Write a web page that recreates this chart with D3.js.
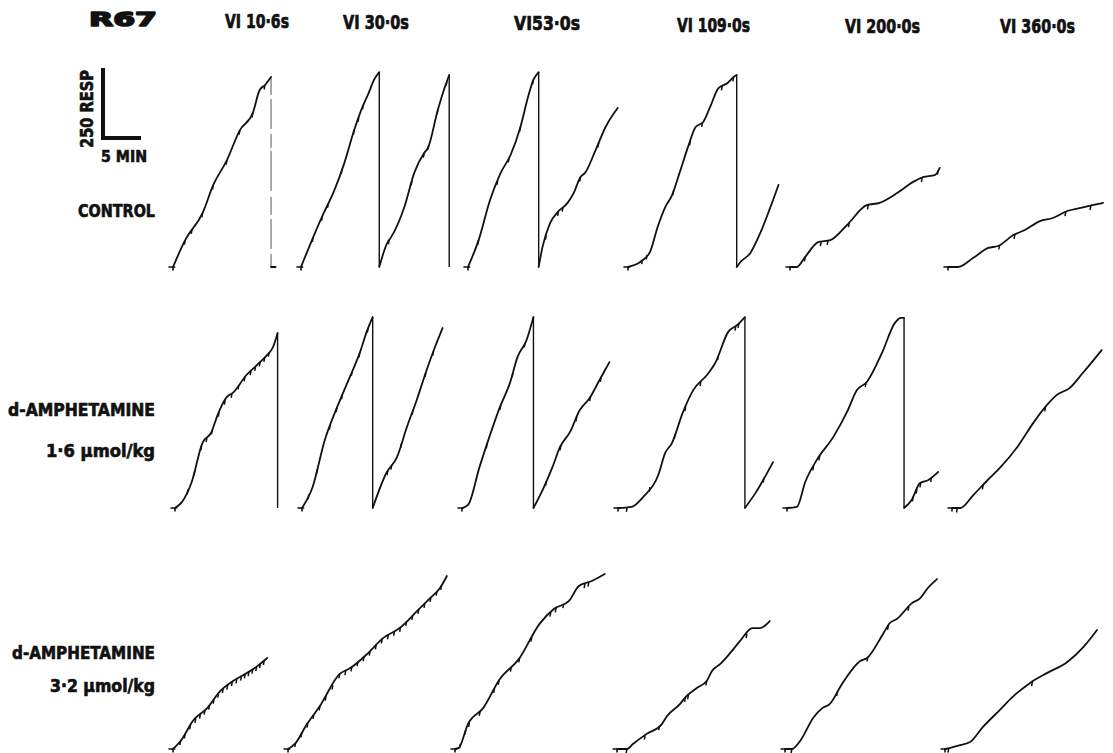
<!DOCTYPE html>
<html><head><meta charset="utf-8">
<script src="https://cdn.jsdelivr.net/npm/d3@7"></script>
<style>body{margin:0;background:#fff}</style>
</head><body>
<svg id="c" width="1113" height="753"></svg>
<script>
// ---------- labels ----------
const subject = "R67";
const schedules = ["VI 10·6s", "VI 30·0s", "VI53·0s", "VI 109·0s", "VI 200·0s", "VI 360·0s"];
const conditions = ["CONTROL", "d-AMPHETAMINE", "d-AMPHETAMINE"];
const doses = ["", "1·6 µmol/kg", "3·2 µmol/kg"];
const scaleResp = 250;   // calibration bar, responses
const scaleMin = 5;      // calibration bar, minutes
const scaleRespLabel = "250 RESP";
const scaleMinLabel = "5 MIN";

// ---------- cumulative records: [minutes, cumulative responses] ----------
// a repeated minute with responses back to 0 is a pen reset
const control_VI10  = [[0,0],[1.6,96],[3.9,193],[5.3,293],[7.1,382],[8.8,489],[10.5,550],[11.4,632],[12.1,650],[12.9,679],[12.9,0],[13.5,0]];
const control_VI30  = [[0,0],[2.0,132],[3.0,193],[4.3,268],[5.7,371],[7.0,489],[8.2,579],[8.9,621],[9.6,668],[10.3,696],[10.3,0],[11.4,89],[11.8,104],[13.6,214],[14.9,336],[16.2,407],[16.7,425],[18.0,561],[18.8,632],[19.5,686],[19.5,0]];
const control_VI53  = [[0,0],[1.4,96],[2.9,239],[4.3,336],[5.6,400],[6.9,500],[7.9,607],[8.6,668],[9.3,696],[9.3,0],[9.8,71],[10.8,157],[11.8,196],[13.1,229],[13.9,264],[14.8,321],[15.4,336],[16.8,418],[18.1,500],[19.7,568]];
const control_VI109 = [[0,0],[1.6,18],[2.9,54],[3.9,143],[4.9,214],[5.8,257],[6.9,346],[7.9,429],[8.9,500],[9.9,518],[10.8,571],[11.9,639],[13.1,657],[13.9,679],[14.3,686],[14.3,0],[14.8,18],[16.1,50],[17.4,121],[18.7,211],[19.8,293]];
const control_VI200 = [[0,0],[0.9,0],[2.0,36],[3.7,89],[5.3,96],[7.5,150],[10.1,221],[11.8,229],[14.1,264],[16.2,304],[17.5,321],[19.1,329],[19.7,354]];
const control_VI360 = [[0,0],[1.3,0],[3.3,32],[5.3,68],[6.6,75],[8.6,114],[10.1,132],[12.1,164],[13.8,175],[15.7,200],[17.4,211],[19.0,221],[20.4,229]];

const amph16_VI10  = [[0,0],[0.9,21],[2.2,93],[3.6,232],[4.8,271],[5.6,332],[6.8,396],[7.6,411],[9.4,475],[10.8,511],[12.1,546],[12.9,575],[13.5,625],[13.5,0]];
const amph16_VI30  = [[0,0],[1.4,75],[3.0,243],[4.3,339],[5.4,411],[6.3,468],[7.6,554],[8.6,636],[9.3,682],[9.3,0],[11.1,125],[12.5,182],[13.8,289],[15.1,386],[16.4,493],[17.5,575],[18.5,643]];
const amph16_VI53  = [[0,0],[0.8,11],[2.3,146],[3.6,254],[5.0,361],[6.3,446],[7.3,539],[8.5,600],[9.4,682],[9.4,0],[10.6,64],[11.9,146],[12.9,218],[14.2,271],[15.5,350],[16.8,393],[18.1,457],[19.4,521]];
const amph16_VI109 = [[0,0],[1.8,4],[3.3,39],[5.3,118],[6.2,196],[7.1,232],[8.5,339],[9.9,421],[11.7,475],[12.8,518],[14.5,629],[15.7,654],[16.7,682],[16.7,0],[18.1,54],[20.4,164]];
const amph16_VI200 = [[0,0],[1.3,4],[2.4,93],[3.9,171],[6.1,254],[7.9,343],[9.2,421],[10.5,450],[12.5,554],[14.2,661],[15.0,679],[15.4,679],[15.4,0],[16.4,29],[17.5,89],[18.6,100],[19.9,129]];
const amph16_VI360 = [[0,0],[1.1,0],[2.8,46],[4.7,100],[6.3,143],[8.6,218],[10.7,304],[12.5,368],[13.8,404],[15.5,429],[17.2,482],[19.7,564]];

const amph32_VI10  = [[0,0],[1.2,36],[2.6,100],[4.5,146],[6.2,207],[7.9,243],[9.7,271],[11.1,296],[12.4,325]];
const amph32_VI30  = [[0,0],[0.9,18],[2.5,89],[4.2,154],[6.8,268],[8.2,289],[10.4,339],[12.5,396],[14.7,432],[17.0,493],[18.7,539],[20.0,575],[20.9,618]];
const amph32_VI53  = [[0,0],[0.5,4],[1.7,89],[3.7,146],[5.9,250],[8.4,321],[11.1,446],[13.0,500],[15.0,529],[16.3,582],[18.0,600],[19.7,625]];
const amph32_VI109 = [[0,0],[1.3,0],[2.1,18],[3.9,54],[5.9,89],[6.6,118],[8.3,161],[8.9,182],[10.5,218],[11.8,243],[12.5,279],[13.6,304],[14.9,343],[16.2,386],[17.8,432],[18.8,432],[20.1,457]];
const amph32_VI200 = [[0,0],[0.9,0],[2.0,29],[3.7,111],[4.9,146],[5.9,161],[7.5,232],[9.9,314],[10.8,325],[12.9,411],[13.8,450],[14.7,464],[16.7,521],[17.8,539],[18.8,575],[20.0,607]];
const amph32_VI360 = [[0,0],[0.7,4],[2.0,14],[3.3,25],[5.0,79],[7.2,139],[8.9,186],[11.2,236],[13.4,271],[16.1,311],[18.2,364],[19.3,400],[20.0,425]];

// reinforcement pips (minutes)
const control_VI10_rf  = [1.6,2.5,3.9,5.3,7.1,8.8,10.5,12.1];
const control_VI30_rf  = [1.6,2.8,3.6,5.4,7.0,7.6,8.2,11.6,14.6,16.2,16.8,18.0,19.2];
const control_VI53_rf  = [1.4,3.9,5.4,6.9,8.6,10.3,11.9,12.5,14.8,17.2];
const control_VI109_rf = [1.9,2.5,6.0,8.2,9.8,12.4,13.9];
const control_VI200_rf = [2.0,4.1,5.0,7.8,10.3,17.4,19.5];
const control_VI360_rf = [6.8,8.8,15.5,18.8];
const amph16_VI10_rf  = [1.7,2.6,3.5,4.2,4.9,5.8,6.6,7.5,8.4,9.2,10.0,10.6,11.2,11.8,12.4];
const amph16_VI30_rf  = [0.9,2.0,3.7,4.6,5.3,6.6,7.6,8.7,11.3,11.8,13.1,14.6,16.3,17.3];
const amph16_VI53_rf  = [3.3,5.1,6.7,8.3,11.1,13.0,15.1,16.9,18.3];
const amph16_VI109_rf = [1.2,4.2,7.5,8.9,10.9,13.2,15.5,15.9,19.2];
const amph16_VI200_rf = [3.5,4.3,10.4,16.6,17.1,17.6,19.0];
const amph16_VI360_rf = [0.7,4.1,12.3];
const amph32_VI10_rf  = [1.0,1.6,2.3,3.0,3.6,4.2,4.8,5.4,6.0,6.6,7.2,7.8,8.4,9.0,9.5,10.0,10.5,11.0,11.5,12.0];
const amph32_VI30_rf  = [1.0,1.8,2.6,3.4,4.2,5.0,5.9,6.8,7.6,8.4,9.2,10.0,10.8,11.6,12.4,13.2,14.0,14.8,15.6,16.4,17.2,18.0,18.8,19.6,20.2];
const amph32_VI53_rf  = [0.7,1.4,1.9,3.3,5.2,5.8,7.4,8.5,10.1,12.6,13.3,14.3,17.1,17.6];
const amph32_VI109_rf = [1.3,3.7,5.6,9.0,9.4,11.8,17.1];
const amph32_VI200_rf = [0.9,6.9,10.9,13.6,16.3];
const amph32_VI360_rf = [0.5,11.5];

// ---------- layout (pixel placement of each record's origin) ----------
const originX = [[173,301,468,628,790,948],[175,302,462,618,787,952],[173,288,455,617,785,945]];
const rowBase = [267, 508, 749];

const records = [
  [control_VI10, control_VI30, control_VI53, control_VI109, control_VI200, control_VI360],
  [amph16_VI10, amph16_VI30, amph16_VI53, amph16_VI109, amph16_VI200, amph16_VI360],
  [amph32_VI10, amph32_VI30, amph32_VI53, amph32_VI109, amph32_VI200, amph32_VI360]
];
const pips = [
  [control_VI10_rf, control_VI30_rf, control_VI53_rf, control_VI109_rf, control_VI200_rf, control_VI360_rf],
  [amph16_VI10_rf, amph16_VI30_rf, amph16_VI53_rf, amph16_VI109_rf, amph16_VI200_rf, amph16_VI360_rf],
  [amph32_VI10_rf, amph32_VI30_rf, amph32_VI53_rf, amph32_VI109_rf, amph32_VI200_rf, amph32_VI360_rf]
];

// ---------- scales ----------
const x = d3.scaleLinear().domain([0, 20]).range([0, 152]);      // minutes -> px
const y = d3.scaleLinear().domain([0, 700]).range([0, -196]);    // responses -> px (upwards)

const svg = d3.select("#c");
const ink = "#111";
const fontNarrow = "'Liberation Sans Narrow','DejaVu Sans Condensed','Roboto Condensed',sans-serif";

// ---------- header ----------
svg.append("text").text(subject)
  .attr("x", 89).attr("y", 26)
  .attr("font-family", "'DejaVu Sans',sans-serif").attr("font-weight", 900)
  .attr("font-size", 20).attr("textLength", 68).attr("lengthAdjust", "spacingAndGlyphs")
  .attr("fill", ink).attr("stroke", ink).attr("stroke-width", 1.6).attr("stroke-linejoin", "round");

const headX = [225, 343, 514, 677, 845, 1000];
const headW = [64, 66, 66, 73, 75, 75];
const headY = [28, 29, 30, 32, 33, 33];
svg.selectAll("text.head").data(schedules).join("text").attr("class", "head")
  .text(d => d)
  .attr("x", (d, i) => headX[i]).attr("y", (d, i) => headY[i])
  .attr("textLength", (d, i) => headW[i]).attr("lengthAdjust", "spacingAndGlyphs")
  .attr("font-family", fontNarrow).attr("font-weight", "bold").attr("font-size", 20)
  .attr("fill", ink).attr("stroke", ink).attr("stroke-width", 0.7);

// ---------- row labels ----------
const condY = [217, 416, 659];
const condW = [77, 147, 143];
svg.selectAll("text.cond").data(conditions).join("text").attr("class", "cond")
  .text(d => d)
  .attr("x", 155).attr("y", (d, i) => condY[i]).attr("text-anchor", "end")
  .attr("textLength", (d, i) => condW[i]).attr("lengthAdjust", "spacingAndGlyphs")
  .attr("font-family", fontNarrow).attr("font-weight", "bold").attr("font-size", 17)
  .attr("fill", ink).attr("stroke", ink).attr("stroke-width", 0.6);
const doseY = [0, 457, 692];
const doseW = [0, 109, 105];
svg.selectAll("text.dose").data(doses.filter(d => d)).join("text").attr("class", "dose")
  .text(d => d)
  .attr("x", 155).attr("y", (d, i) => doseY[i + 1]).attr("text-anchor", "end")
  .attr("textLength", (d, i) => doseW[i + 1]).attr("lengthAdjust", "spacingAndGlyphs")
  .attr("font-family", fontNarrow).attr("font-weight", "bold").attr("font-size", 17)
  .attr("fill", ink).attr("stroke", ink).attr("stroke-width", 0.6);

// ---------- calibration bar ----------
const cal = svg.append("g").attr("transform", "translate(103,138)");
cal.append("path")
  .attr("d", `M0,${y(scaleResp)} L0,0 L${x(scaleMin)},0`)
  .attr("fill", "none").attr("stroke", ink).attr("stroke-width", 4).attr("stroke-linejoin", "miter");
svg.append("text").text(scaleRespLabel)
  .attr("transform", "translate(93,148) rotate(-90)")
  .attr("textLength", 78).attr("lengthAdjust", "spacingAndGlyphs")
  .attr("font-family", fontNarrow).attr("font-weight", "bold").attr("font-size", 17).attr("fill", ink)
  .attr("stroke", ink).attr("stroke-width", 0.6);
svg.append("text").text(scaleMinLabel)
  .attr("x", 101).attr("y", 162)
  .attr("textLength", 46).attr("lengthAdjust", "spacingAndGlyphs")
  .attr("font-family", fontNarrow).attr("font-weight", "bold").attr("font-size", 16).attr("fill", ink)
  .attr("stroke", ink).attr("stroke-width", 0.6);

// ---------- records ----------
const line = d3.line().x(d => x(d[0])).y(d => y(d[1])).curve(d3.curveMonotoneX);

function splitSegments(pts) {
  const segs = [], resets = [];
  let cur = [pts[0]];
  for (let i = 1; i < pts.length; i++) {
    const a = pts[i - 1], b = pts[i];
    if (b[0] === a[0] && b[1] < a[1]) {
      segs.push(cur); resets.push([a, b]); cur = [b];
    } else cur.push(b);
  }
  segs.push(cur);
  return { segs, resets };
}
function interp(pts, t) {
  for (let i = 0; i < pts.length - 1; i++) {
    const a = pts[i], b = pts[i + 1];
    if (b[0] > a[0] && t >= a[0] && t <= b[0]) return a[1] + (b[1] - a[1]) * (t - a[0]) / (b[0] - a[0]);
  }
  return null;
}

records.forEach((row, r) => {
  row.forEach((pts, c) => {
    const g = svg.append("g").attr("transform", `translate(${originX[r][c]},${rowBase[r]})`);
    const { segs, resets } = splitSegments(pts);
    const faint = (r === 0 && c === 0);
    resets.forEach(([a, b]) => {
      g.append("line")
        .attr("x1", x(a[0])).attr("y1", y(a[1])).attr("x2", x(b[0])).attr("y2", y(b[1]))
        .attr("stroke", ink).attr("stroke-width", faint ? 1 : 1.4)
        .attr("stroke-dasharray", faint ? "18,4,30,5,14,3,40,6" : null)
        .attr("opacity", faint ? 0.7 : 1);
    });
    segs.forEach(s => {
      if (s.length < 2) return;
      g.append("path").attr("d", line(s))
        .attr("fill", "none").attr("stroke", ink).attr("stroke-width", 1.8)
        .attr("stroke-linejoin", "round").attr("stroke-linecap", "round");
    });
    // start marker
    g.append("path")
      .attr("d", `M${x(-0.6)},${y(0)} L${x(0.3)},${y(0)} M${x(0)},${y(0)} L${x(0)},${y(0) + 3.5}`)
      .attr("fill", "none").attr("stroke", ink).attr("stroke-width", 1.6);
    // reinforcement pips
    pips[r][c].forEach(t => {
      const v = interp(pts, t);
      if (v === null) return;
      g.append("line")
        .attr("x1", x(t)).attr("y1", y(v))
        .attr("x2", x(t) - 0.8).attr("y2", y(v) + 4.5)
        .attr("stroke", ink).attr("stroke-width", 1.5);
    });
  });
});
</script>
</body></html>
